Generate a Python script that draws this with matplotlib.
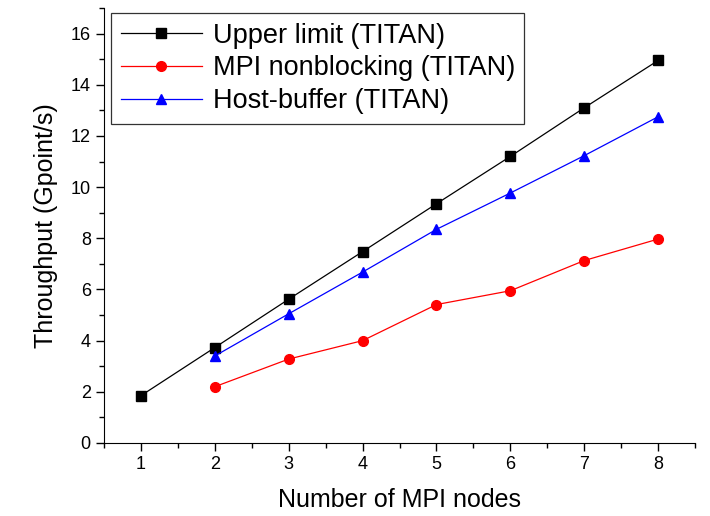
import matplotlib
matplotlib.use('Agg')
import matplotlib.pyplot as plt
from matplotlib.ticker import MultipleLocator

plt.rcParams['font.family'] = ['Liberation Sans', 'DejaVu Sans']

nodes_upper = [1, 2, 3, 4, 5, 6, 7, 8]
upper_limit = [1.85, 3.73, 5.62, 7.48, 9.35, 11.2, 13.1, 14.95]

nodes = [2, 3, 4, 5, 6, 7, 8]
mpi_nonblocking = [2.2, 3.28, 4.0, 5.41, 5.95, 7.13, 7.97]
host_buffer = [3.4, 5.05, 6.68, 8.35, 9.77, 11.23, 12.75]

fig = plt.figure(figsize=(7.1, 5.16), dpi=100)
ax = fig.add_axes([0.1465, 0.1415, 0.8325, 0.843])

ax.plot(nodes_upper, upper_limit, color='black', lw=0.9, marker='s', ms=6.5,
        label='Upper limit (TITAN)')
ax.plot(nodes, mpi_nonblocking, color='red', lw=0.9, marker='o', ms=7,
        label='MPI nonblocking (TITAN)')
ax.plot(nodes, host_buffer, color='blue', lw=0.9, marker='^', ms=7.5,
        label='Host-buffer (TITAN)')

ax.set_xlim(0.5, 8.5)
ax.set_ylim(0, 17)
ax.xaxis.set_major_locator(MultipleLocator(1))
ax.xaxis.set_minor_locator(MultipleLocator(0.5))
ax.yaxis.set_major_locator(MultipleLocator(2))
ax.yaxis.set_minor_locator(MultipleLocator(1))
ax.spines['top'].set_visible(False)
ax.spines['right'].set_visible(False)
ax.tick_params(which='both', direction='out', width=1, labelsize=13)
ax.tick_params(which='major', length=6)
ax.tick_params(which='minor', length=3.5)

ax.set_xlabel('Number of MPI nodes', fontsize=18, labelpad=11)
ax.set_ylabel('Throughput (Gpoint/s)', fontsize=18, labelpad=9)

leg = ax.legend(loc='upper left', bbox_to_anchor=(0.012, 0.988), fontsize=19.5,
                frameon=True, fancybox=False, edgecolor='black',
                handlelength=3.0, handletextpad=0.4, borderpad=0.35,
                labelspacing=0.25, borderaxespad=0)
leg.get_frame().set_linewidth(0.9)

fig.savefig('out.png', dpi=100)
